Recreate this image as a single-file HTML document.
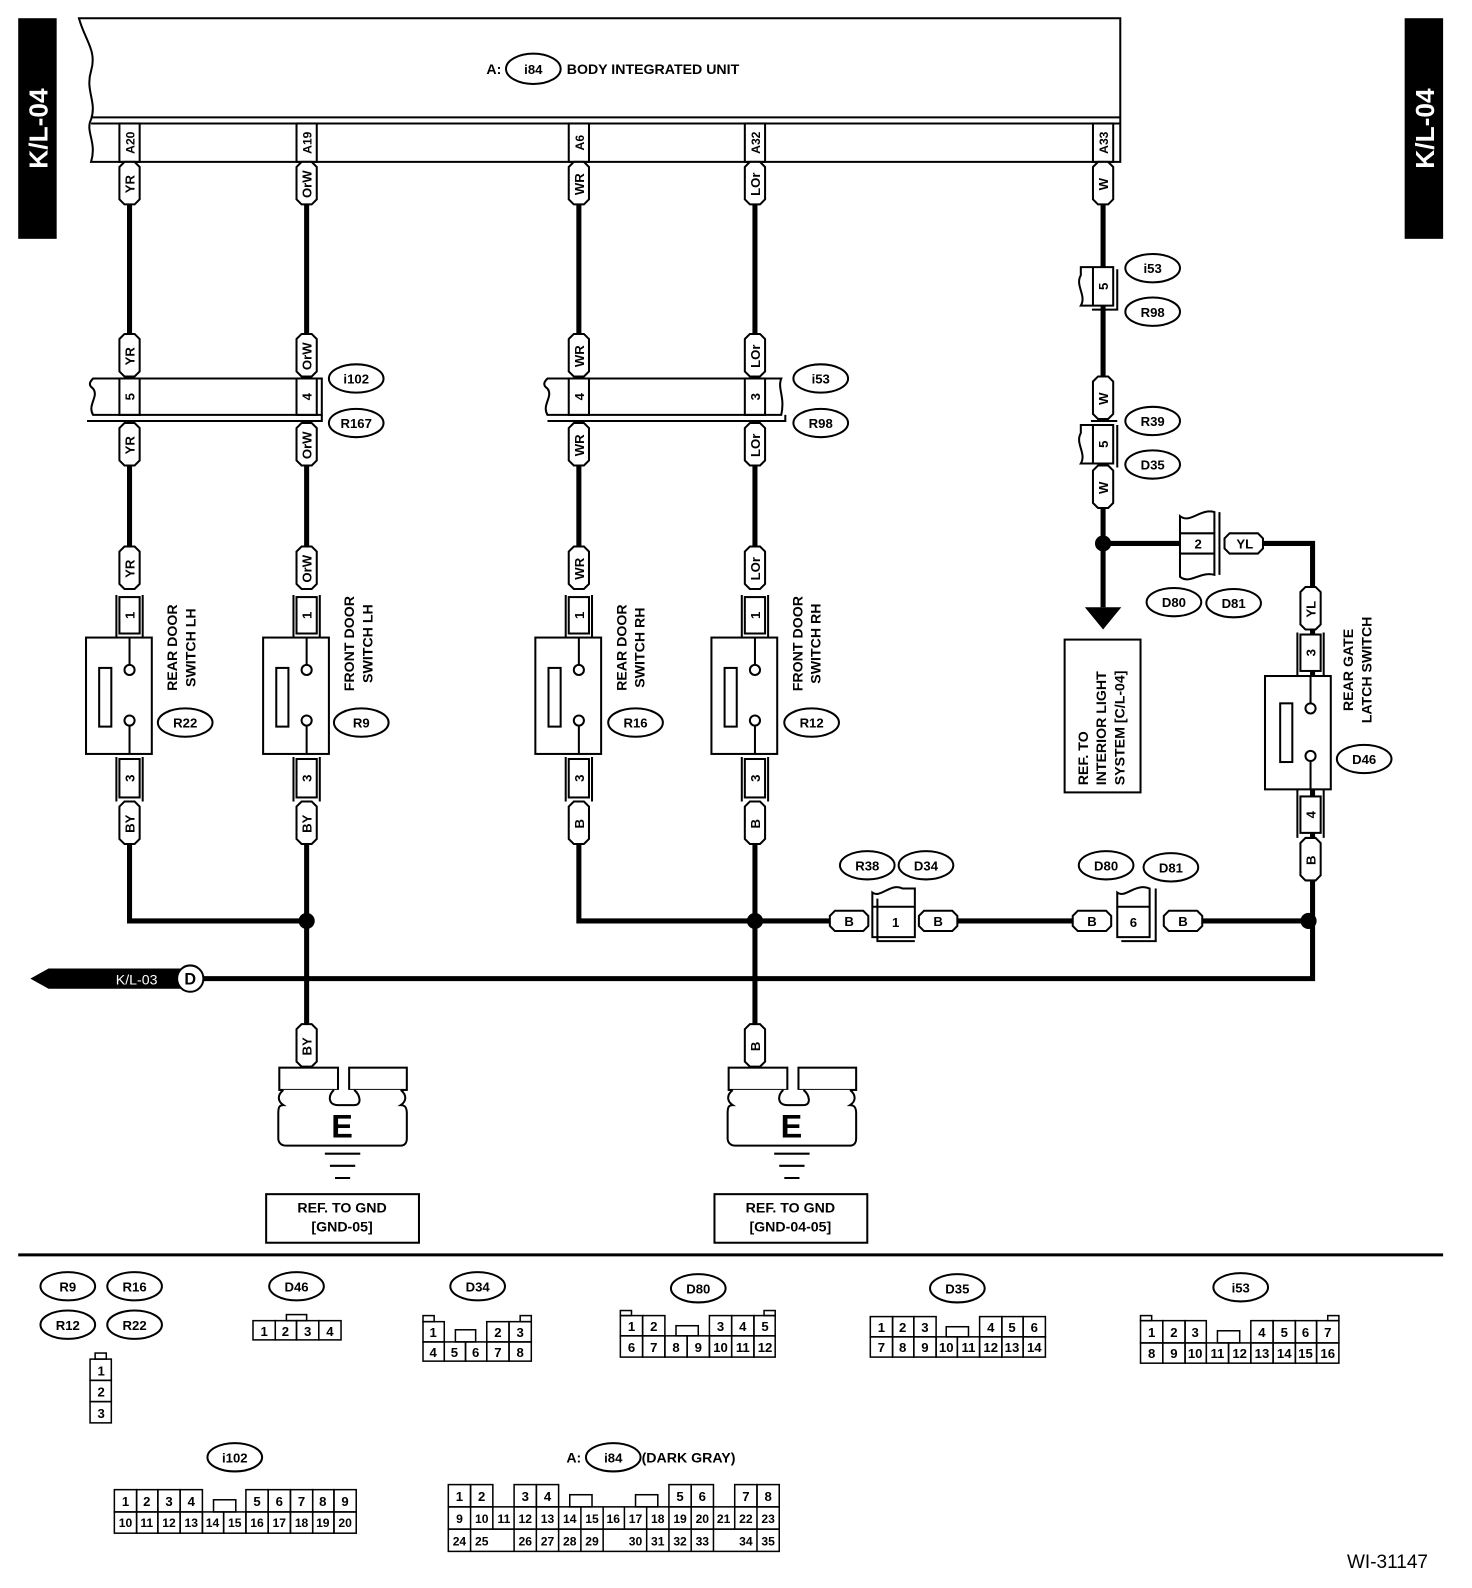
<!DOCTYPE html>
<html><head><meta charset="utf-8"><style>
html,body{margin:0;padding:0;background:#fff;}
svg{display:block;}
text{font-family:"Liberation Sans",Arial,sans-serif;font-weight:bold;fill:#000;}
.t{font-size:13px;text-anchor:middle;}
.n{font-size:13px;text-anchor:middle;font-weight:normal;}
.w{stroke:#000;stroke-width:5;fill:none;}
.s{stroke:#000;stroke-width:2;fill:#fff;}
.l{stroke:#000;stroke-width:2;fill:none;}
</style></head><body>
<svg width="1472" height="1588" viewBox="0 0 1472 1588" xmlns="http://www.w3.org/2000/svg">
<defs>
<g id="vt"><polygon points="-10,5 -5,0 5,0 10,5 10,37 5,42 -5,42 -10,37" class="s"/></g>
<g id="ht"><polygon points="5,-10 0,-5 0,5 5,10 33,10 38,5 38,-5 33,-10" class="s"/></g>
</defs>
<g transform="scale(1.012)">
<!-- side tabs -->
<rect x="18" y="18" width="38" height="218" fill="#000"/>
<text transform="translate(47,127) rotate(-90)" style="font-size:26px;text-anchor:middle;fill:#fff">K/L-04</text>
<rect x="1388" y="18" width="38" height="218" fill="#000"/>
<text transform="translate(1417,127) rotate(-90)" style="font-size:26px;text-anchor:middle;fill:#fff">K/L-04</text>

<!-- body unit -->
<path d="M78,18 H1107 V160 H90 C96,140 84,130 90,118 C96,100 84,90 90,70 C96,50 84,40 78,18 Z" class="s"/>
<line x1="90" y1="116" x2="1107" y2="116" class="l"/>
<line x1="90" y1="122" x2="1107" y2="122" class="l"/>
<text x="488" y="73" class="t" style="font-size:14px">A:</text>
<ellipse cx="527" cy="68" rx="27" ry="15" class="s"/>
<text x="527" y="73" class="t">i84</text>
<text x="560" y="73" style="font-size:14px">BODY INTEGRATED UNIT</text>

<!-- pin boxes on unit -->
<g class="l">
<rect x="118" y="122" width="20" height="38"/><rect x="293" y="122" width="20" height="38"/>
<rect x="562" y="122" width="20" height="38"/><rect x="736" y="122" width="20" height="38"/>
<rect x="1080" y="122" width="20" height="38"/>
</g>
<g class="t" style="font-size:12px">
<text transform="translate(133,141) rotate(-90)">A20</text>
<text transform="translate(308,141) rotate(-90)">A19</text>
<text transform="translate(577,141) rotate(-90)">A6</text>
<text transform="translate(751,141) rotate(-90)">A32</text>
<text transform="translate(1095,141) rotate(-90)">A33</text>
</g>

<!-- wires -->
<path class="w" d="M128,200 V335 M128,455 V545 M128,830 V910 H303 M303,200 V335 M303,455 V545 M303,830 V1015"/>
<path class="w" d="M572,200 V335 M572,455 V545 M572,830 V910 H830 M746,200 V335 M746,455 V545 M746,830 V1015 M940,910 H1070 M1180,910 H1297 V870 M1297,830 V620 M1297,585 V537 H1245"/>
<path class="w" d="M1090,200 V378 M1090,495 V600 M1090,537 H1168 M200,967 H1297 V910"/>
<circle cx="303" cy="910" r="8"/><circle cx="746" cy="910" r="8"/><circle cx="1293" cy="910" r="8"/><circle cx="1090" cy="537" r="8"/>
<polygon points="1072,600 1108,600 1090,622" fill="#000"/>

<!-- vertical tags -->
<g>
<use href="#vt" x="128" y="160"/><use href="#vt" x="128" y="330"/><use href="#vt" x="128" y="418"/><use href="#vt" x="128" y="540"/><use href="#vt" x="128" y="792"/>
<use href="#vt" x="303" y="160"/><use href="#vt" x="303" y="330"/><use href="#vt" x="303" y="418"/><use href="#vt" x="303" y="540"/><use href="#vt" x="303" y="792"/><use href="#vt" x="303" y="1012"/>
<use href="#vt" x="572" y="160"/><use href="#vt" x="572" y="330"/><use href="#vt" x="572" y="418"/><use href="#vt" x="572" y="540"/><use href="#vt" x="572" y="792"/>
<use href="#vt" x="746" y="160"/><use href="#vt" x="746" y="330"/><use href="#vt" x="746" y="418"/><use href="#vt" x="746" y="540"/><use href="#vt" x="746" y="792"/><use href="#vt" x="746" y="1012"/>
<use href="#vt" x="1090" y="160"/><use href="#vt" x="1090" y="372"/><use href="#vt" x="1090" y="460"/>
<use href="#vt" x="1295" y="580"/><use href="#vt" x="1295" y="828"/>
</g>
<g class="t">
<text transform="translate(133,182) rotate(-90)">YR</text><text transform="translate(133,352) rotate(-90)">YR</text><text transform="translate(133,440) rotate(-90)">YR</text><text transform="translate(133,562) rotate(-90)">YR</text><text transform="translate(133,814) rotate(-90)">BY</text>
<text transform="translate(308,182) rotate(-90)">OrW</text><text transform="translate(308,352) rotate(-90)">OrW</text><text transform="translate(308,440) rotate(-90)">OrW</text><text transform="translate(308,562) rotate(-90)">OrW</text><text transform="translate(308,814) rotate(-90)">BY</text><text transform="translate(308,1034) rotate(-90)">BY</text>
<text transform="translate(577,182) rotate(-90)">WR</text><text transform="translate(577,352) rotate(-90)">WR</text><text transform="translate(577,440) rotate(-90)">WR</text><text transform="translate(577,562) rotate(-90)">WR</text><text transform="translate(577,814) rotate(-90)">B</text>
<text transform="translate(751,182) rotate(-90)">LOr</text><text transform="translate(751,352) rotate(-90)">LOr</text><text transform="translate(751,440) rotate(-90)">LOr</text><text transform="translate(751,562) rotate(-90)">LOr</text><text transform="translate(751,814) rotate(-90)">B</text><text transform="translate(751,1034) rotate(-90)">B</text>
<text transform="translate(1095,182) rotate(-90)">W</text><text transform="translate(1095,394) rotate(-90)">W</text><text transform="translate(1095,482) rotate(-90)">W</text>
<text transform="translate(1300,602) rotate(-90)">YL</text><text transform="translate(1300,850) rotate(-90)">B</text>
</g>

<!-- horizontal tags -->
<use href="#ht" x="820" y="910"/><use href="#ht" x="908" y="910"/><use href="#ht" x="1060" y="910"/><use href="#ht" x="1150" y="910"/><use href="#ht" x="1210" y="537"/>
<g class="t"><text x="839" y="915">B</text><text x="927" y="915">B</text><text x="1079" y="915">B</text><text x="1169" y="915">B</text><text x="1230" y="542">YL</text></g>

<!-- bands -->
<path class="s" d="M92,374 H318 V410 H92 C86,400 98,392 92,384 C86,380 90,376 92,374 Z"/>
<path class="l" d="M86,416 H318 V410"/>
<path class="s" d="M541,374 H772 C768,384 776,392 772,410 H541 C535,400 547,392 541,384 C535,380 539,376 541,374 Z"/>
<path class="l" d="M541,416 H776 V410"/>
<g class="l"><rect x="118" y="374" width="20" height="36"/><rect x="293" y="374" width="20" height="36"/><rect x="562" y="374" width="20" height="36"/><rect x="736" y="374" width="20" height="36"/></g>
<g class="t"><text transform="translate(133,392) rotate(-90)">5</text><text transform="translate(308,392) rotate(-90)">4</text><text transform="translate(577,392) rotate(-90)">4</text><text transform="translate(751,392) rotate(-90)">3</text></g>

<!-- A33 line connectors -->
<path class="s" d="M1068,264 H1100 V302 H1068 C1074,292 1062,282 1068,272 Z"/>
<path class="l" d="M1080,264 V302 M1104,266 V306 H1079"/>
<text transform="translate(1095,283) rotate(-90)" class="t">5</text>
<path class="s" d="M1068,420 H1100 V458 H1068 C1074,448 1062,438 1068,428 Z"/>
<path class="l" d="M1080,420 V458 M1104,420 V462 M1078,416 H1104"/>
<text transform="translate(1095,439) rotate(-90)" class="t">5</text>
<!-- connector 2 -->
<path class="s" d="M1166,510 C1176,518 1186,502 1200,506 V568 C1186,564 1176,578 1166,570 Z"/>
<path class="l" d="M1166,527 H1200 M1166,547 H1200 M1205,506 V568"/>
<text x="1184" y="542" class="t">2</text>
<!-- horizontal B connectors -->
<path class="s" d="M862,882 C870,888 880,872 892,878 H904 V926 H862 Z"/>
<path class="l" d="M867,888 V930 H904 M862,896 H904"/>
<text x="885" y="916" class="t">1</text>
<path class="s" d="M1104,882 C1112,888 1122,872 1136,878 V926 H1104 Z"/>
<path class="l" d="M1142,878 V930 H1108 M1104,896 H1136"/>
<text x="1120" y="916" class="t">6</text>

<!-- switches -->
<g class="l">
<path d="M115,588 V630 M141,588 V630 M115,748 V792 M141,748 V792"/>
<path d="M290,588 V630 M316,588 V630 M290,748 V792 M316,748 V792"/>
<path d="M559,588 V630 M585,588 V630 M559,748 V792 M585,748 V792"/>
<path d="M733,588 V630 M759,588 V630 M733,748 V792 M759,748 V792"/>
<path d="M1282,625 V668 M1308,625 V668 M1282,780 V828 M1308,780 V828"/>
</g>
<g class="s">
<rect x="118" y="590" width="20" height="36"/><rect x="118" y="750" width="20" height="38"/>
<rect x="293" y="590" width="20" height="36"/><rect x="293" y="750" width="20" height="38"/>
<rect x="562" y="590" width="20" height="36"/><rect x="562" y="750" width="20" height="38"/>
<rect x="736" y="590" width="20" height="36"/><rect x="736" y="750" width="20" height="38"/>
<rect x="1285" y="627" width="20" height="36"/><rect x="1285" y="787" width="20" height="36"/>
<rect x="85" y="630" width="65" height="115"/><rect x="260" y="630" width="65" height="115"/>
<rect x="529" y="630" width="65" height="115"/><rect x="703" y="630" width="65" height="115"/>
<rect x="1250" y="668" width="65" height="112"/>
<rect x="98" y="660" width="12" height="58"/><rect x="273" y="660" width="12" height="58"/>
<rect x="542" y="660" width="12" height="58"/><rect x="716" y="660" width="12" height="58"/>
<rect x="1265" y="695" width="12" height="58"/>
</g>
<g class="l">
<path d="M128,630 V657 M128,717 V745 M303,630 V657 M303,717 V745 M572,630 V657 M572,717 V745 M746,630 V657 M746,717 V745 M1295,668 V695 M1295,752 V780"/>
<circle cx="128" cy="662" r="5"/><circle cx="128" cy="712" r="5"/><circle cx="303" cy="662" r="5"/><circle cx="303" cy="712" r="5"/>
<circle cx="572" cy="662" r="5"/><circle cx="572" cy="712" r="5"/><circle cx="746" cy="662" r="5"/><circle cx="746" cy="712" r="5"/>
<circle cx="1295" cy="700" r="5"/><circle cx="1295" cy="747" r="5"/>
</g>
<g class="t">
<text transform="translate(133,608) rotate(-90)">1</text><text transform="translate(133,769) rotate(-90)">3</text>
<text transform="translate(308,608) rotate(-90)">1</text><text transform="translate(308,769) rotate(-90)">3</text>
<text transform="translate(577,608) rotate(-90)">1</text><text transform="translate(577,769) rotate(-90)">3</text>
<text transform="translate(751,608) rotate(-90)">1</text><text transform="translate(751,769) rotate(-90)">3</text>
<text transform="translate(1300,645) rotate(-90)">3</text><text transform="translate(1300,805) rotate(-90)">4</text>
</g>
<g style="font-size:14px;text-anchor:middle">
<text transform="translate(175,640) rotate(-90)">REAR DOOR</text><text transform="translate(193,640) rotate(-90)">SWITCH LH</text>
<text transform="translate(350,636) rotate(-90)">FRONT DOOR</text><text transform="translate(368,636) rotate(-90)">SWITCH LH</text>
<text transform="translate(619,640) rotate(-90)">REAR DOOR</text><text transform="translate(637,640) rotate(-90)">SWITCH RH</text>
<text transform="translate(793,636) rotate(-90)">FRONT DOOR</text><text transform="translate(811,636) rotate(-90)">SWITCH RH</text>
<text transform="translate(1337,662) rotate(-90)">REAR GATE</text><text transform="translate(1355,662) rotate(-90)">LATCH SWITCH</text>
</g>

<!-- interior light ref -->
<rect x="1052" y="632" width="75" height="151" class="s"/>
<g style="font-size:14px;text-anchor:start">
<text transform="translate(1075,776) rotate(-90)">REF. TO</text>
<text transform="translate(1093,776) rotate(-90)">INTERIOR LIGHT</text>
<text transform="translate(1111,776) rotate(-90)">SYSTEM [C/L-04]</text>
</g>

<!-- K/L-03 -->
<polygon points="30,967 48,957 180,957 180,977 48,977" fill="#000"/>
<text x="135" y="973" style="font-size:14px;fill:#fff;font-weight:normal;text-anchor:middle">K/L-03</text>
<circle cx="188" cy="967" r="13" class="s"/>
<text x="188" y="973" class="t" style="font-size:16px">D</text>

<!-- grounds -->
<g id="gnd">
<rect x="276" y="1055" width="58" height="22" class="s"/>
<rect x="345" y="1055" width="57" height="22" class="s"/>
<path class="s" d="M280,1077 C274,1082 274,1088 280,1092 C276,1092 275,1094 275,1100 V1125 C275,1129 278,1132 282,1132 H396 C400,1132 402,1129 402,1125 V1100 C402,1094 400,1092 396,1092 C402,1088 402,1082 396,1077 M330,1077 C324,1082 324,1092 334,1092 H350 C358,1092 356,1082 350,1077"/>
<text x="338" y="1124" style="font-size:32px;text-anchor:middle">E</text>
<path class="l" d="M321,1140 H356 M326,1152 H351 M331,1164 H346"/>
</g>
<use href="#gnd" x="444"/>
<rect x="263" y="1180" width="151" height="48" class="s"/>
<text x="338" y="1198" class="t" style="font-size:14px">REF. TO GND</text>
<text x="338" y="1217" class="t" style="font-size:14px">[GND-05]</text>
<rect x="706" y="1180" width="151" height="48" class="s"/>
<text x="781" y="1198" class="t" style="font-size:14px">REF. TO GND</text>
<text x="781" y="1217" class="t" style="font-size:14px">[GND-04-05]</text>

<!-- ellipse labels -->
<g class="s">
<ellipse cx="352" cy="374" rx="27" ry="14"/><ellipse cx="352" cy="418" rx="27" ry="14"/>
<ellipse cx="811" cy="374" rx="27" ry="14"/><ellipse cx="811" cy="418" rx="27" ry="14"/>
<ellipse cx="1139" cy="265" rx="27" ry="14"/><ellipse cx="1139" cy="308" rx="27" ry="14"/>
<ellipse cx="1139" cy="416" rx="27" ry="14"/><ellipse cx="1139" cy="459" rx="27" ry="14"/>
<ellipse cx="1160" cy="595" rx="27" ry="14"/><ellipse cx="1219" cy="596" rx="27" ry="14"/>
<ellipse cx="1348" cy="750" rx="27" ry="14"/>
<ellipse cx="857" cy="855" rx="27" ry="14"/><ellipse cx="915" cy="855" rx="27" ry="14"/>
<ellipse cx="1093" cy="855" rx="27" ry="14"/><ellipse cx="1157" cy="857" rx="27" ry="14"/>
<ellipse cx="183" cy="714" rx="27" ry="14"/><ellipse cx="357" cy="714" rx="27" ry="14"/>
<ellipse cx="628" cy="714" rx="27" ry="14"/><ellipse cx="802" cy="714" rx="27" ry="14"/>
<ellipse cx="67" cy="1271" rx="27" ry="14"/><ellipse cx="133" cy="1271" rx="27" ry="14"/>
<ellipse cx="67" cy="1309" rx="27" ry="14"/><ellipse cx="133" cy="1309" rx="27" ry="14"/>
<ellipse cx="293" cy="1271" rx="27" ry="14"/><ellipse cx="472" cy="1271" rx="27" ry="14"/>
<ellipse cx="690" cy="1273" rx="27" ry="14"/><ellipse cx="946" cy="1273" rx="27" ry="14"/>
<ellipse cx="1226" cy="1272" rx="27" ry="14"/><ellipse cx="232" cy="1440" rx="27" ry="14"/>
<ellipse cx="606" cy="1440" rx="27" ry="14"/>
</g>
<g class="t">
<text x="352" y="379">i102</text><text x="352" y="423">R167</text>
<text x="811" y="379">i53</text><text x="811" y="423">R98</text>
<text x="1139" y="270">i53</text><text x="1139" y="313">R98</text>
<text x="1139" y="421">R39</text><text x="1139" y="464">D35</text>
<text x="1160" y="600">D80</text><text x="1219" y="601">D81</text>
<text x="1348" y="755">D46</text>
<text x="857" y="860">R38</text><text x="915" y="860">D34</text>
<text x="1093" y="860">D80</text><text x="1157" y="862">D81</text>
<text x="183" y="719">R22</text><text x="357" y="719">R9</text>
<text x="628" y="719">R16</text><text x="802" y="719">R12</text>
<text x="67" y="1276">R9</text><text x="133" y="1276">R16</text>
<text x="67" y="1314">R12</text><text x="133" y="1314">R22</text>
<text x="293" y="1276">D46</text><text x="472" y="1276">D34</text>
<text x="690" y="1278">D80</text><text x="946" y="1278">D35</text>
<text x="1226" y="1277">i53</text><text x="232" y="1445">i102</text>
<text x="606" y="1445">i84</text>
<text x="567" y="1445" style="font-size:14px">A:</text>
<text x="634" y="1445" style="font-size:14px;text-anchor:start">(DARK GRAY)</text>
</g>

<line x1="18" y1="1240" x2="1426" y2="1240" stroke="#000" stroke-width="3"/>

<!-- connector tables -->
<g class="l" style="stroke-width:1.5">
<!-- R9 group -->
<rect x="89" y="1343" width="21" height="21"/><rect x="89" y="1364" width="21" height="21"/><rect x="89" y="1385" width="21" height="21"/><rect x="94" y="1337" width="11" height="6"/>
<!-- D46 -->
<rect x="250" y="1305" width="22" height="19"/><rect x="272" y="1305" width="21" height="19"/><rect x="293" y="1305" width="22" height="19"/><rect x="315" y="1305" width="22" height="19"/><rect x="283" y="1299" width="20" height="6"/>
<!-- D34 -->
<rect x="418" y="1306" width="21" height="20"/><rect x="481" y="1306" width="22" height="20"/><rect x="503" y="1306" width="22" height="20"/><rect x="450" y="1314" width="20" height="12"/>
<rect x="418" y="1326" width="21" height="19"/><rect x="439" y="1326" width="21" height="19"/><rect x="460" y="1326" width="21" height="19"/><rect x="481" y="1326" width="22" height="19"/><rect x="503" y="1326" width="22" height="19"/>
<rect x="418" y="1300" width="11" height="6"/><rect x="514" y="1300" width="11" height="6"/>
<!-- D80 -->
<rect x="613" y="1300" width="22" height="20"/><rect x="635" y="1300" width="22" height="20"/><rect x="701" y="1300" width="22" height="20"/><rect x="723" y="1300" width="22" height="20"/><rect x="745" y="1300" width="21" height="20"/><rect x="668" y="1310" width="22" height="10"/>
<rect x="613" y="1320" width="22" height="21"/><rect x="635" y="1320" width="22" height="21"/><rect x="657" y="1320" width="22" height="21"/><rect x="679" y="1320" width="22" height="21"/><rect x="701" y="1320" width="22" height="21"/><rect x="723" y="1320" width="22" height="21"/><rect x="745" y="1320" width="21" height="21"/>
<rect x="613" y="1295" width="11" height="5"/><rect x="755" y="1295" width="11" height="5"/>
<!-- D35 -->
<rect x="860" y="1301" width="22" height="20"/><rect x="882" y="1301" width="21" height="20"/><rect x="903" y="1301" width="22" height="20"/><rect x="968" y="1301" width="22" height="20"/><rect x="990" y="1301" width="21" height="20"/><rect x="1011" y="1301" width="22" height="20"/><rect x="935" y="1311" width="22" height="10"/>
<rect x="860" y="1321" width="22" height="20"/><rect x="882" y="1321" width="21" height="20"/><rect x="903" y="1321" width="22" height="20"/><rect x="925" y="1321" width="21" height="20"/><rect x="946" y="1321" width="22" height="20"/><rect x="968" y="1321" width="22" height="20"/><rect x="990" y="1321" width="21" height="20"/><rect x="1011" y="1321" width="22" height="20"/>
<!-- i53 -->
<rect x="1127" y="1305" width="22" height="22"/><rect x="1149" y="1305" width="22" height="22"/><rect x="1171" y="1305" width="21" height="22"/><rect x="1236" y="1305" width="22" height="22"/><rect x="1258" y="1305" width="22" height="22"/><rect x="1280" y="1305" width="21" height="22"/><rect x="1301" y="1305" width="22" height="22"/><rect x="1203" y="1315" width="22" height="12"/>
<rect x="1127" y="1327" width="22" height="20"/><rect x="1149" y="1327" width="22" height="20"/><rect x="1171" y="1327" width="21" height="20"/><rect x="1192" y="1327" width="22" height="20"/><rect x="1214" y="1327" width="22" height="20"/><rect x="1236" y="1327" width="22" height="20"/><rect x="1258" y="1327" width="22" height="20"/><rect x="1280" y="1327" width="21" height="20"/><rect x="1301" y="1327" width="22" height="20"/>
<rect x="1127" y="1300" width="11" height="5"/><rect x="1312" y="1300" width="11" height="5"/>
<!-- i102 -->
<rect x="113" y="1472" width="22" height="22"/><rect x="135" y="1472" width="21" height="22"/><rect x="156" y="1472" width="22" height="22"/><rect x="178" y="1472" width="22" height="22"/><rect x="243" y="1472" width="22" height="22"/><rect x="265" y="1472" width="22" height="22"/><rect x="287" y="1472" width="22" height="22"/><rect x="309" y="1472" width="21" height="22"/><rect x="330" y="1472" width="22" height="22"/><rect x="211" y="1482" width="22" height="12"/>
<rect x="113" y="1494" width="22" height="21"/><rect x="135" y="1494" width="21" height="21"/><rect x="156" y="1494" width="22" height="21"/><rect x="178" y="1494" width="22" height="21"/><rect x="200" y="1494" width="21" height="21"/><rect x="221" y="1494" width="22" height="21"/><rect x="243" y="1494" width="22" height="21"/><rect x="265" y="1494" width="22" height="21"/><rect x="287" y="1494" width="22" height="21"/><rect x="309" y="1494" width="21" height="21"/><rect x="330" y="1494" width="22" height="21"/>
<!-- i84 -->
<rect x="443" y="1467" width="22" height="22"/><rect x="465" y="1467" width="22" height="22"/><rect x="508" y="1467" width="22" height="22"/><rect x="530" y="1467" width="22" height="22"/><rect x="661" y="1467" width="22" height="22"/><rect x="683" y="1467" width="22" height="22"/><rect x="726" y="1467" width="22" height="22"/><rect x="748" y="1467" width="22" height="22"/>
<rect x="563" y="1477" width="22" height="12"/><rect x="628" y="1477" width="22" height="12"/>
<rect x="443" y="1489" width="327" height="22"/><rect x="443" y="1511" width="327" height="22"/>
<path d="M465,1489 V1533 M487,1489 V1511 M508,1489 V1533 M530,1489 V1533 M552,1489 V1533 M574,1489 V1533 M596,1489 V1533 M617,1489 V1511 M639,1489 V1533 M661,1489 V1533 M683,1489 V1533 M705,1489 V1533 M726,1489 V1511 M748,1489 V1533"/>
</g>
<g class="n">
<text x="100" y="1359">1</text><text x="100" y="1380">2</text><text x="100" y="1401">3</text>
<text x="261" y="1320">1</text><text x="282" y="1320">2</text><text x="304" y="1320">3</text><text x="326" y="1320">4</text>
<text x="428" y="1321">1</text><text x="492" y="1321">2</text><text x="514" y="1321">3</text>
<text x="428" y="1341">4</text><text x="449" y="1341">5</text><text x="470" y="1341">6</text><text x="492" y="1341">7</text><text x="514" y="1341">8</text>
<text x="624" y="1315">1</text><text x="646" y="1315">2</text><text x="712" y="1315">3</text><text x="734" y="1315">4</text><text x="756" y="1315">5</text>
<text x="624" y="1336">6</text><text x="646" y="1336">7</text><text x="668" y="1336">8</text><text x="690" y="1336">9</text><text x="712" y="1336">10</text><text x="734" y="1336">11</text><text x="756" y="1336">12</text>
<text x="871" y="1316">1</text><text x="892" y="1316">2</text><text x="914" y="1316">3</text><text x="979" y="1316">4</text><text x="1000" y="1316">5</text><text x="1022" y="1316">6</text>
<text x="871" y="1336">7</text><text x="892" y="1336">8</text><text x="914" y="1336">9</text><text x="935" y="1336">10</text><text x="957" y="1336">11</text><text x="979" y="1336">12</text><text x="1000" y="1336">13</text><text x="1022" y="1336">14</text>
<text x="1138" y="1321">1</text><text x="1160" y="1321">2</text><text x="1181" y="1321">3</text><text x="1247" y="1321">4</text><text x="1269" y="1321">5</text><text x="1290" y="1321">6</text><text x="1312" y="1321">7</text>
<text x="1138" y="1342">8</text><text x="1160" y="1342">9</text><text x="1181" y="1342">10</text><text x="1203" y="1342">11</text><text x="1225" y="1342">12</text><text x="1247" y="1342">13</text><text x="1269" y="1342">14</text><text x="1290" y="1342">15</text><text x="1312" y="1342">16</text>
<text x="124" y="1488">1</text><text x="145" y="1488">2</text><text x="167" y="1488">3</text><text x="189" y="1488">4</text><text x="254" y="1488">5</text><text x="276" y="1488">6</text><text x="298" y="1488">7</text><text x="319" y="1488">8</text><text x="341" y="1488">9</text>
<text x="124" y="1509" style="font-size:12px">10</text><text x="145" y="1509" style="font-size:12px">11</text><text x="167" y="1509" style="font-size:12px">12</text><text x="189" y="1509" style="font-size:12px">13</text><text x="210" y="1509" style="font-size:12px">14</text><text x="232" y="1509" style="font-size:12px">15</text><text x="254" y="1509" style="font-size:12px">16</text><text x="276" y="1509" style="font-size:12px">17</text><text x="298" y="1509" style="font-size:12px">18</text><text x="319" y="1509" style="font-size:12px">19</text><text x="341" y="1509" style="font-size:12px">20</text>
<text x="454" y="1483">1</text><text x="476" y="1483">2</text><text x="519" y="1483">3</text><text x="541" y="1483">4</text><text x="672" y="1483">5</text><text x="694" y="1483">6</text><text x="737" y="1483">7</text><text x="759" y="1483">8</text>
</g>
<g class="n" style="font-size:12px">
<text x="454" y="1505">9</text><text x="476" y="1505">10</text><text x="498" y="1505">11</text><text x="519" y="1505">12</text><text x="541" y="1505">13</text><text x="563" y="1505">14</text><text x="585" y="1505">15</text><text x="606" y="1505">16</text><text x="628" y="1505">17</text><text x="650" y="1505">18</text><text x="672" y="1505">19</text><text x="694" y="1505">20</text><text x="715" y="1505">21</text><text x="737" y="1505">22</text><text x="759" y="1505">23</text>
<text x="454" y="1527">24</text><text x="476" y="1527">25</text><text x="519" y="1527">26</text><text x="541" y="1527">27</text><text x="563" y="1527">28</text><text x="585" y="1527">29</text><text x="628" y="1527">30</text><text x="650" y="1527">31</text><text x="672" y="1527">32</text><text x="694" y="1527">33</text><text x="737" y="1527">34</text><text x="759" y="1527">35</text>
</g>
</g>
<text x="1347" y="1568" style="font-size:19px;font-weight:normal">WI-31147</text>
</svg>
</body></html>
